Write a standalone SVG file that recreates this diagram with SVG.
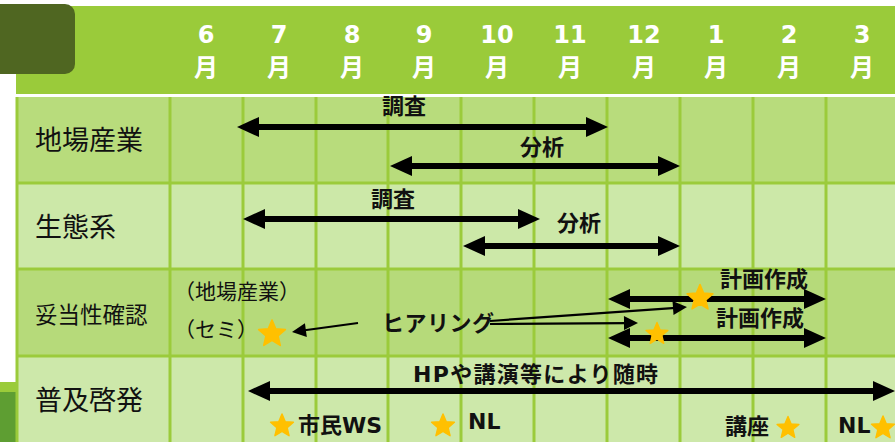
<svg xmlns="http://www.w3.org/2000/svg" xmlns:xlink="http://www.w3.org/1999/xlink" width="895" height="442" viewBox="0 0 895 442">
<style>
.grid{stroke:#9BCB3B;stroke-width:3;fill:none}
.hd{font-family:"DejaVu Sans","Noto Sans CJK JP",sans-serif;font-weight:bold;font-size:24px;fill:#fff;text-anchor:middle}
.mo{font-family:"Noto Sans CJK JP",sans-serif;font-weight:bold;font-size:24px;fill:#fff;text-anchor:middle}
.rl{font-family:"Noto Sans CJK JP",sans-serif;font-size:27px;fill:#111}
.sm{font-family:"Noto Sans CJK JP",sans-serif;font-size:21px;fill:#111}
.bl{font-family:"DejaVu Sans","Noto Sans CJK JP",sans-serif;font-weight:bold;font-size:22px;fill:#111}
.thick{stroke:#000;stroke-width:6;fill:none;marker-start:url(#ah);marker-end:url(#ah)}
.thin{stroke:#000;stroke-width:2.2;fill:none;marker-end:url(#ahs)}
.star{fill:#FFC000;stroke:#FFC000;stroke-width:1.2;stroke-linejoin:round}
</style>
<defs>
<marker id="ah" markerUnits="userSpaceOnUse" markerWidth="22" markerHeight="20" refX="6" refY="10" orient="auto-start-reverse" overflow="visible">
<path d="M0,0 L22,10 L0,20 z" fill="#000"/>
</marker>
<marker id="ahs" markerUnits="userSpaceOnUse" markerWidth="14" markerHeight="14" refX="3" refY="7" orient="auto" overflow="visible">
<path d="M0,0 L14,7 L0,14 z" fill="#000"/>
</marker>
<polygon id="star" points="0,-10 2.645,-3.641 9.511,-3.09 4.28,1.391 5.878,8.09 0,4.5 -5.878,8.09 -4.28,1.391 -9.511,-3.09 -2.645,-3.641"/>
</defs>

<rect width="895" height="442" fill="#fff"/>

<g id="header">
<rect x="16" y="6" width="879" height="88" fill="#9ACB3A"/>
<rect x="-15" y="4" width="90" height="70" rx="10" fill="#4F6621"/>
<rect x="0" y="382" width="17" height="10" fill="#9ACB3A"/>
<rect x="0" y="392" width="17" height="50" fill="#5E9E32"/>
<text class="hd" x="206" y="43">6</text><text class="mo" x="206" y="76">月</text>
<text class="hd" x="279" y="43">7</text><text class="mo" x="279" y="76">月</text>
<text class="hd" x="352" y="43">8</text><text class="mo" x="352" y="76">月</text>
<text class="hd" x="424" y="43">9</text><text class="mo" x="424" y="76">月</text>
<text class="hd" x="497" y="43">10</text><text class="mo" x="497" y="76">月</text>
<text class="hd" x="570" y="43">11</text><text class="mo" x="570" y="76">月</text>
<text class="hd" x="644" y="43">12</text><text class="mo" x="644" y="76">月</text>
<text class="hd" x="716" y="43">1</text><text class="mo" x="716" y="76">月</text>
<text class="hd" x="789" y="43">2</text><text class="mo" x="789" y="76">月</text>
<text class="hd" x="862" y="43">3</text><text class="mo" x="862" y="76">月</text>
</g>

<g id="table">
<rect x="17" y="97" width="878" height="86" fill="#B8DC7C"/>
<rect x="17" y="183" width="878" height="86" fill="#CCE8A8"/>
<rect x="17" y="269" width="878" height="87" fill="#B6DA7A"/>
<rect x="17" y="356" width="878" height="86" fill="#CDE8AA"/>
<path class="grid" d="M17,97 V442 M170,97 V442 M243,97 V442 M316,97 V442 M388,97 V442 M461,97 V442 M534,97 V442 M607,97 V442 M680,97 V442 M753,97 V442 M826,97 V442 M17,183 H895 M17,269 H895 M17,356 H895"/>
</g>

<g id="row-labels">
<text class="rl" x="35" y="150">地場産業</text>
<text class="rl" x="35" y="237">生態系</text>
<text class="rl" x="35" y="323" style="font-size:22.5px">妥当性確認</text>
<text class="rl" x="35" y="410">普及啓発</text>
</g>

<g id="connectors">
<line class="thick" x1="253" y1="127" x2="592" y2="127"/>
<line class="thick" x1="406" y1="166" x2="664" y2="166"/>
<line class="thick" x1="259" y1="219" x2="524" y2="219"/>
<line class="thick" x1="479" y1="246" x2="664" y2="246"/>
<line class="thick" x1="624" y1="299" x2="810" y2="299"/>
<line class="thick" x1="624" y1="338" x2="810" y2="338"/>
<line class="thick" x1="264" y1="391" x2="879" y2="391"/>
<line class="thin" x1="358" y1="323" x2="302.9" y2="330.5"/>
<line class="thin" x1="490" y1="321" x2="676" y2="307.8"/>
<line class="thin" x1="490" y1="324" x2="627" y2="323.1"/>
</g>

<g id="labels">
<text class="bl" x="404" y="114" text-anchor="middle">調査</text>
<text class="bl" x="542" y="155" text-anchor="middle">分析</text>
<text class="bl" x="393" y="207" text-anchor="middle">調査</text>
<text class="bl" x="579" y="231" text-anchor="middle">分析</text>
<text class="bl" x="764" y="287" text-anchor="middle">計画作成</text>
<text class="bl" x="760" y="326" text-anchor="middle">計画作成</text>
<text class="bl" x="382" y="331" style="letter-spacing:0.5px">ヒアリング</text>
<text class="sm" x="174" y="299">（地場産業）</text>
<text class="sm" x="174" y="337">（セミ）</text>
<text class="bl" x="413" y="382" style="letter-spacing:1.3px">HPや講演等により随時</text>
<text class="bl" x="298" y="433">市民WS</text>
<text class="bl" x="468" y="429">NL</text>
<text class="bl" x="725" y="434">講座</text>
<text class="bl" x="838" y="433">NL</text>
</g>

<g id="stars">
<use xlink:href="#star" class="star" transform="translate(272,334) scale(1.4)"/>
<use xlink:href="#star" class="star" transform="translate(700,298) scale(1.35)"/>
<use xlink:href="#star" class="star" transform="translate(657,334) scale(1.15)"/>
<use xlink:href="#star" class="star" transform="translate(282,426) scale(1.2)"/>
<use xlink:href="#star" class="star" transform="translate(443,426) scale(1.2)"/>
<use xlink:href="#star" class="star" transform="translate(788,428) scale(1.15)"/>
<use xlink:href="#star" class="star" transform="translate(883,428) scale(1.2)"/>
</g>
</svg>
